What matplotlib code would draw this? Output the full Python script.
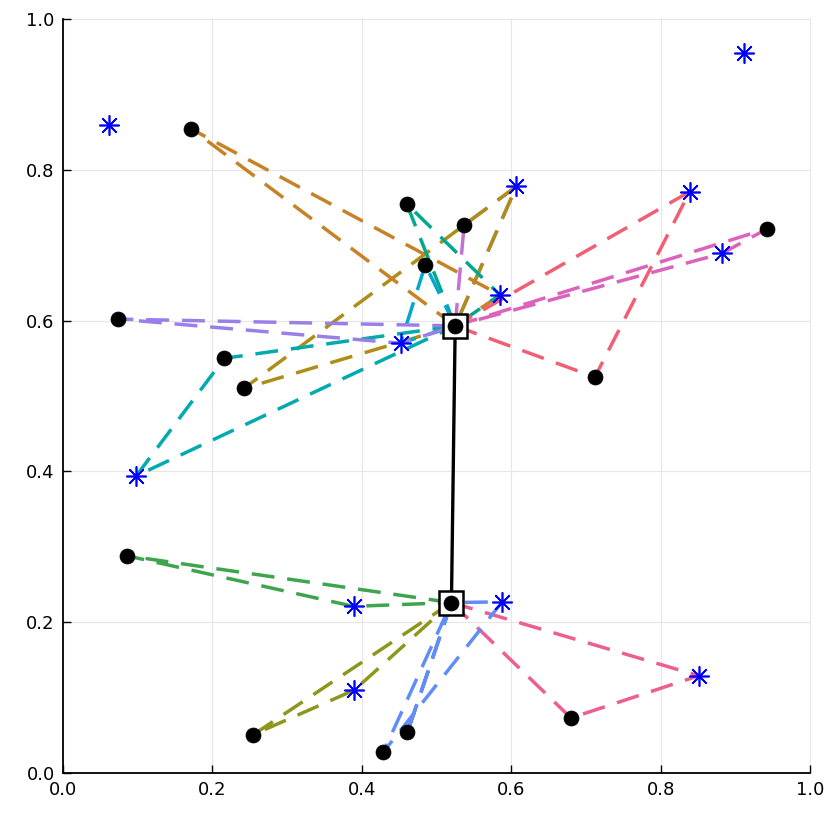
import matplotlib
matplotlib.use("Agg")
import matplotlib.pyplot as plt

# Depots (square markers), pickups (black dots), deliveries (blue stars)
DEPOT_X = [0.525, 0.520]
DEPOT_Y = [0.593, 0.226]

CIRCLE_X = [0.172, 0.460, 0.537, 0.485, 0.943, 0.074, 0.216,
            0.242, 0.712, 0.086, 0.255, 0.429, 0.461, 0.680]
CIRCLE_Y = [0.854, 0.755, 0.727, 0.674, 0.722, 0.602, 0.550,
            0.510, 0.525, 0.288, 0.051, 0.028, 0.054, 0.073]

STAR_X = [0.062, 0.911, 0.607, 0.839, 0.882, 0.585,
          0.452, 0.098, 0.389, 0.588, 0.390, 0.851]
STAR_Y = [0.859, 0.955, 0.778, 0.771, 0.689, 0.634,
          0.570, 0.394, 0.221, 0.227, 0.110, 0.129]

# Each route as a sequence of node keys: D = depot, C = dot, S = star
ROUTES = [
    ["D1", "C9", "S8", "D1"],
    ["D0", "C2", "S2", "D0"],
    ["D0", "C7", "S2", "D0"],
    ["D0", "C6", "S7", "D0"],
    ["D1", "C13", "S11", "D1"],
    ["D0", "C0", "S5", "D0"],
    ["D0", "C1", "S5", "D0"],
    ["D1", "C10", "S10", "D1"],
    ["D0", "C3", "S6", "D0"],
    ["D0", "C5", "S6", "D0"],
    ["D1", "C12", "D1", "C11", "S9", "D1"],
    ["D0", "C8", "S3", "D0"],
    ["D0", "C4", "S4", "D0"],
]
ROUTE_COLORS = ["#3EA44E", "#C371D2", "#AC8E18", "#00AAAE", "#ED5E93",
                "#C68225", "#00A98D", "#8E971D", "#00A9CD", "#9B7FE9",
                "#618DF6", "#F05F73", "#DC63BB"]

TICKS = [0.0, 0.2, 0.4, 0.6, 0.8, 1.0]


def node_xy(key):
    kind, i = key[0], int(key[1:])
    if kind == "D":
        return DEPOT_X[i], DEPOT_Y[i]
    if kind == "C":
        return CIRCLE_X[i], CIRCLE_Y[i]
    return STAR_X[i], STAR_Y[i]


fig = plt.figure(figsize=(8.3, 8.3), dpi=100)
ax = fig.add_axes([63 / 830, 57 / 830, 747 / 830, 754 / 830])

# link between the two depots
ax.plot(DEPOT_X, DEPOT_Y, color="black", lw=2.4, zorder=2)

for route, col in zip(ROUTES, ROUTE_COLORS):
    pts = [node_xy(k) for k in route]
    ax.plot([p[0] for p in pts], [p[1] for p in pts], color=col, lw=2.5,
            ls=(0, (6.6, 3.7)), zorder=2)

ax.plot(DEPOT_X, DEPOT_Y, ls="none", marker="s", ms=17.5, mfc="white",
        mec="black", mew=1.8, zorder=3)
ax.plot(DEPOT_X + CIRCLE_X, DEPOT_Y + CIRCLE_Y, ls="none", marker="o",
        ms=10.8, mfc="black", mec="black", mew=0.5, zorder=4)
ax.plot(STAR_X, STAR_Y, ls="none", marker=(8, 2, 0), ms=14.5,
        color="#0000FF", mew=1.2, zorder=4)

ax.set_xlim(0, 1)
ax.set_ylim(0, 1)
ax.set_xticks(TICKS)
ax.set_yticks(TICKS)
ax.set_xticklabels([f"{t:.1f}" for t in TICKS])
ax.set_yticklabels([f"{t:.1f}" for t in TICKS])
ax.tick_params(direction="in", length=6, width=1.0, labelsize=13, pad=6)
ax.grid(True, color="#e6e6e6", lw=0.8, zorder=0)
ax.set_axisbelow(True)
for sp in ["top", "right"]:
    ax.spines[sp].set_visible(False)
for sp in ["left", "bottom"]:
    ax.spines[sp].set_linewidth(1.3)
# keep the grid lines at 1.0 visible like the reference
for ln in ax.get_xgridlines() + ax.get_ygridlines():
    ln.set_clip_on(False)

plt.savefig("out.png", dpi=100)
plt.close()
